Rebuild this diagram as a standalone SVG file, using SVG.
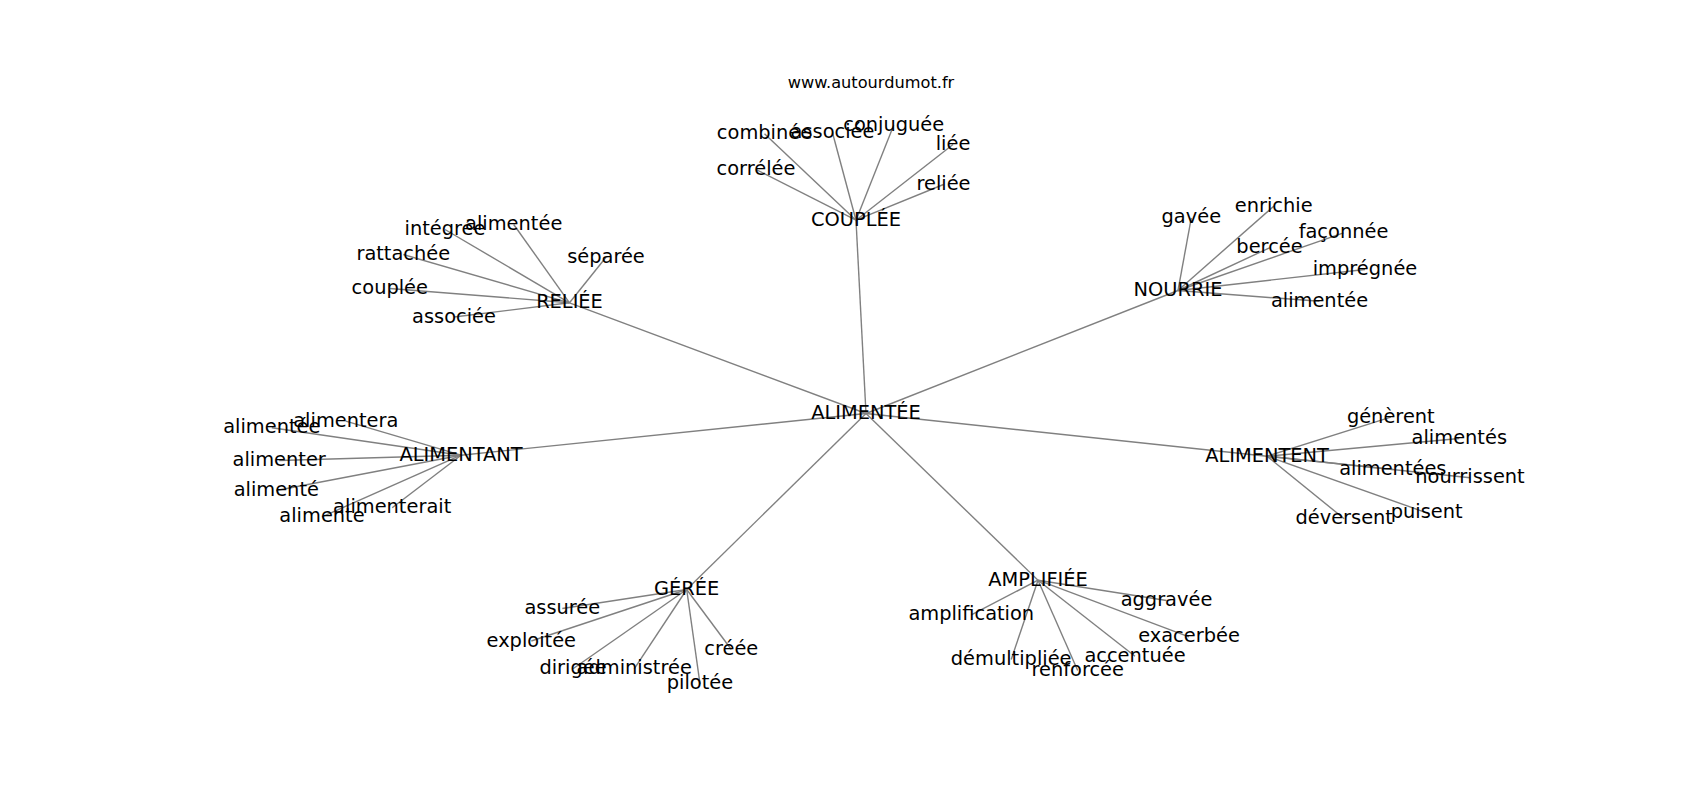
<svg xmlns="http://www.w3.org/2000/svg" width="1700" height="800" viewBox="0 0 1700 800">
<style>
.e{stroke:#808080;stroke-width:1.4;fill:none}
.t{font-family:"DejaVu Sans",sans-serif;font-size:19.4px;text-anchor:middle;fill:#000}
.title{font-family:"DejaVu Sans",sans-serif;font-size:16.2px;text-anchor:middle;fill:#000}
</style>
<rect width="1700" height="800" fill="#fff"/>
<text class="title" x="871" y="88.3">www.autourdumot.fr</text>
<g id="edges">
<line class="e" x1="866" y1="413.5" x2="856" y2="220.2"/>
<line class="e" x1="866" y1="413.5" x2="569.5" y2="302.8"/>
<line class="e" x1="866" y1="413.5" x2="1178" y2="290.5"/>
<line class="e" x1="866" y1="413.5" x2="461" y2="455.2"/>
<line class="e" x1="866" y1="413.5" x2="1267" y2="456.2"/>
<line class="e" x1="866" y1="413.5" x2="686.7" y2="589.5"/>
<line class="e" x1="866" y1="413.5" x2="1038" y2="580.2"/>
<line class="e" x1="856" y1="220.2" x2="764.5" y2="133.8"/>
<line class="e" x1="856" y1="220.2" x2="832.5" y2="132.8"/>
<line class="e" x1="856" y1="220.2" x2="893.7" y2="125.2"/>
<line class="e" x1="856" y1="220.2" x2="953" y2="144.5"/>
<line class="e" x1="856" y1="220.2" x2="756" y2="169.5"/>
<line class="e" x1="856" y1="220.2" x2="943.5" y2="184.5"/>
<line class="e" x1="569.5" y1="302.8" x2="445" y2="229.5"/>
<line class="e" x1="569.5" y1="302.8" x2="513.7" y2="224.5"/>
<line class="e" x1="569.5" y1="302.8" x2="403.3" y2="254.5"/>
<line class="e" x1="569.5" y1="302.8" x2="606" y2="257.2"/>
<line class="e" x1="569.5" y1="302.8" x2="389.8" y2="288.5"/>
<line class="e" x1="569.5" y1="302.8" x2="454" y2="317"/>
<line class="e" x1="1178" y1="290.5" x2="1191.3" y2="217.8"/>
<line class="e" x1="1178" y1="290.5" x2="1273.7" y2="206.2"/>
<line class="e" x1="1178" y1="290.5" x2="1269.5" y2="247.8"/>
<line class="e" x1="1178" y1="290.5" x2="1343.5" y2="232.8"/>
<line class="e" x1="1178" y1="290.5" x2="1365" y2="269.5"/>
<line class="e" x1="1178" y1="290.5" x2="1319.5" y2="301.3"/>
<line class="e" x1="461" y1="455.2" x2="271.8" y2="427.8"/>
<line class="e" x1="461" y1="455.2" x2="345.8" y2="421.2"/>
<line class="e" x1="461" y1="455.2" x2="279.2" y2="460.5"/>
<line class="e" x1="461" y1="455.2" x2="276.3" y2="490.5"/>
<line class="e" x1="461" y1="455.2" x2="392.2" y2="507.8"/>
<line class="e" x1="461" y1="455.2" x2="322" y2="516.8"/>
<line class="e" x1="1267" y1="456.2" x2="1390.8" y2="417.2"/>
<line class="e" x1="1267" y1="456.2" x2="1459.3" y2="438.5"/>
<line class="e" x1="1267" y1="456.2" x2="1392.8" y2="469.5"/>
<line class="e" x1="1267" y1="456.2" x2="1470" y2="477.8"/>
<line class="e" x1="1267" y1="456.2" x2="1426.7" y2="512.8"/>
<line class="e" x1="1267" y1="456.2" x2="1344.2" y2="518.8"/>
<line class="e" x1="686.7" y1="589.5" x2="562.3" y2="608.5"/>
<line class="e" x1="686.7" y1="589.5" x2="531.3" y2="641"/>
<line class="e" x1="686.7" y1="589.5" x2="731.3" y2="649.5"/>
<line class="e" x1="686.7" y1="589.5" x2="573" y2="668.8"/>
<line class="e" x1="686.7" y1="589.5" x2="634.2" y2="668.8"/>
<line class="e" x1="686.7" y1="589.5" x2="700" y2="683.8"/>
<line class="e" x1="1038" y1="580.2" x2="971.3" y2="614.8"/>
<line class="e" x1="1038" y1="580.2" x2="1166.5" y2="600.5"/>
<line class="e" x1="1038" y1="580.2" x2="1189" y2="636.8"/>
<line class="e" x1="1038" y1="580.2" x2="1135" y2="656.2"/>
<line class="e" x1="1038" y1="580.2" x2="1011.2" y2="659.5"/>
<line class="e" x1="1038" y1="580.2" x2="1077.7" y2="670.5"/>
</g>
<g id="n-alimentee"><text class="t" x="866" y="419">ALIMENTÉE</text></g>
<g id="n-couplee"><text class="t" x="856" y="225.7">COUPLÉE</text></g>
<g id="n-reliee"><text class="t" x="569.5" y="308.3">RELIÉE</text></g>
<g id="n-nourrie"><text class="t" x="1178" y="296">NOURRIE</text></g>
<g id="n-alimentant"><text class="t" x="461" y="460.7">ALIMENTANT</text></g>
<g id="n-alimentent"><text class="t" x="1267" y="461.7">ALIMENTENT</text></g>
<g id="n-geree"><text class="t" x="686.7" y="595">GÉRÉE</text></g>
<g id="n-amplifiee"><text class="t" x="1038" y="585.7">AMPLIFIÉE</text></g>
<g id="n-c-combinee"><text class="t" x="764.5" y="139.3">combinée</text></g>
<g id="n-c-associee"><text class="t" x="832.5" y="138.3">associée</text></g>
<g id="n-c-conjuguee"><text class="t" x="893.7" y="130.7">conjuguée</text></g>
<g id="n-c-liee"><text class="t" x="953" y="150">liée</text></g>
<g id="n-c-correlee"><text class="t" x="756" y="175">corrélée</text></g>
<g id="n-c-reliee"><text class="t" x="943.5" y="190">reliée</text></g>
<g id="n-r-integree"><text class="t" x="445" y="235">intégrée</text></g>
<g id="n-r-alimentee"><text class="t" x="513.7" y="230">alimentée</text></g>
<g id="n-r-rattachee"><text class="t" x="403.3" y="260">rattachée</text></g>
<g id="n-r-separee"><text class="t" x="606" y="262.7">séparée</text></g>
<g id="n-r-couplee"><text class="t" x="389.8" y="294">couplée</text></g>
<g id="n-r-associee"><text class="t" x="454" y="322.5">associée</text></g>
<g id="n-n-gavee"><text class="t" x="1191.3" y="223.3">gavée</text></g>
<g id="n-n-enrichie"><text class="t" x="1273.7" y="211.7">enrichie</text></g>
<g id="n-n-bercee"><text class="t" x="1269.5" y="253.3">bercée</text></g>
<g id="n-n-faconnee"><text class="t" x="1343.5" y="238.3">façonnée</text></g>
<g id="n-n-impregnee"><text class="t" x="1365" y="275">imprégnée</text></g>
<g id="n-n-alimentee"><text class="t" x="1319.5" y="306.8">alimentée</text></g>
<g id="n-a-alimentee"><text class="t" x="271.8" y="433.3">alimentée</text></g>
<g id="n-a-alimentera"><text class="t" x="345.8" y="426.7">alimentera</text></g>
<g id="n-a-alimenter"><text class="t" x="279.2" y="466">alimenter</text></g>
<g id="n-a-alimente1"><text class="t" x="276.3" y="496">alimenté</text></g>
<g id="n-a-alimenterait"><text class="t" x="392.2" y="513.3">alimenterait</text></g>
<g id="n-a-alimente2"><text class="t" x="322" y="522.3">alimente</text></g>
<g id="n-e-generent"><text class="t" x="1390.8" y="422.7">génèrent</text></g>
<g id="n-e-alimentes"><text class="t" x="1459.3" y="444">alimentés</text></g>
<g id="n-e-alimentees"><text class="t" x="1392.8" y="475">alimentées</text></g>
<g id="n-e-nourrissent"><text class="t" x="1470" y="483.3">nourrissent</text></g>
<g id="n-e-puisent"><text class="t" x="1426.7" y="518.3">puisent</text></g>
<g id="n-e-deversent"><text class="t" x="1344.2" y="524.3">déversent</text></g>
<g id="n-g-assuree"><text class="t" x="562.3" y="614">assurée</text></g>
<g id="n-g-exploitee"><text class="t" x="531.3" y="646.5">exploitée</text></g>
<g id="n-g-creee"><text class="t" x="731.3" y="655">créée</text></g>
<g id="n-g-dirigee"><text class="t" x="573" y="674.3">dirigée</text></g>
<g id="n-g-administree"><text class="t" x="634.2" y="674.3">administrée</text></g>
<g id="n-g-pilotee"><text class="t" x="700" y="689.3">pilotée</text></g>
<g id="n-m-amplification"><text class="t" x="971.3" y="620.3">amplification</text></g>
<g id="n-m-aggravee"><text class="t" x="1166.5" y="606">aggravée</text></g>
<g id="n-m-exacerbee"><text class="t" x="1189" y="642.3">exacerbée</text></g>
<g id="n-m-accentuee"><text class="t" x="1135" y="661.7">accentuée</text></g>
<g id="n-m-demultipliee"><text class="t" x="1011.2" y="665">démultipliée</text></g>
<g id="n-m-renforcee"><text class="t" x="1077.7" y="676">renforcée</text></g>
</svg>
